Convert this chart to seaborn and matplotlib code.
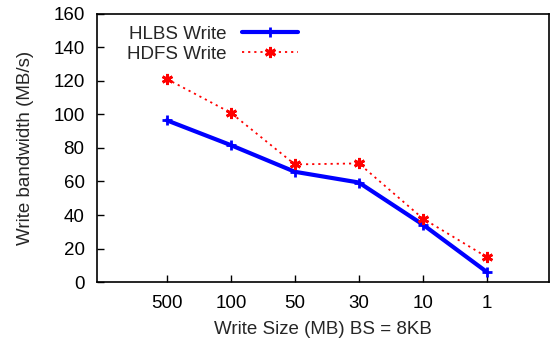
import pandas as pd
import numpy as np
import matplotlib.pyplot as plt
import seaborn as sns

# data
sizes = ['500', '100', '50', '30', '10', '1']
hlbs = [96.5, 81.7, 65.8, 59.4, 34.3, 6.0]
hdfs = [121.2, 101.0, 70.2, 70.8, 37.9, 14.9]

df = pd.DataFrame({'pos': np.arange(len(sizes)), 'HLBS Write': hlbs, 'HDFS Write': hdfs})

sns.set_style('ticks')
plt.rcParams['font.family'] = ['Liberation Sans', 'DejaVu Sans']
fs = 13.5

fig = plt.figure(figsize=(5.55, 3.41), dpi=100)
ax = fig.add_axes([0.175, 0.173, 0.814, 0.786])

sns.lineplot(data=df, x='pos', y='HLBS Write', ax=ax, color='#0000ff', linewidth=3,
             marker='+', markersize=7, markeredgewidth=2, markeredgecolor='#0000ff',
             label='HLBS Write')
sns.lineplot(data=df, x='pos', y='HDFS Write', ax=ax, color='#ff0000', linewidth=1.3,
             linestyle=(0, (1.2, 2.2)), marker=(6, 2, 0), markersize=8, markeredgewidth=2,
             markeredgecolor='#ff0000', label='HDFS Write')

ax.set_xlim(-1.09, 5.97)
ax.set_ylim(0, 160)
ax.set_xticks(df['pos'])
ax.set_xticklabels(sizes)
ax.set_yticks(np.arange(0, 161, 20))
ax.tick_params(direction='in', length=5, width=1, colors='black', labelsize=fs, pad=9)
for s in ax.spines.values():
    s.set_linewidth(1.2)
    s.set_color('black')

ax.set_xlabel('Write Size (MB) BS = 8KB', fontsize=fs, labelpad=7)
ax.set_ylabel('Write bandwidth (MB/s)', fontsize=fs, labelpad=14)

leg = ax.legend(loc='upper left', frameon=False, markerfirst=False, handlelength=3.0,
                fontsize=fs, borderaxespad=0.0, labelspacing=0.15, handletextpad=0.8,
                bbox_to_anchor=(0.05, 0.985))

fig.savefig('out.png', dpi=100)
